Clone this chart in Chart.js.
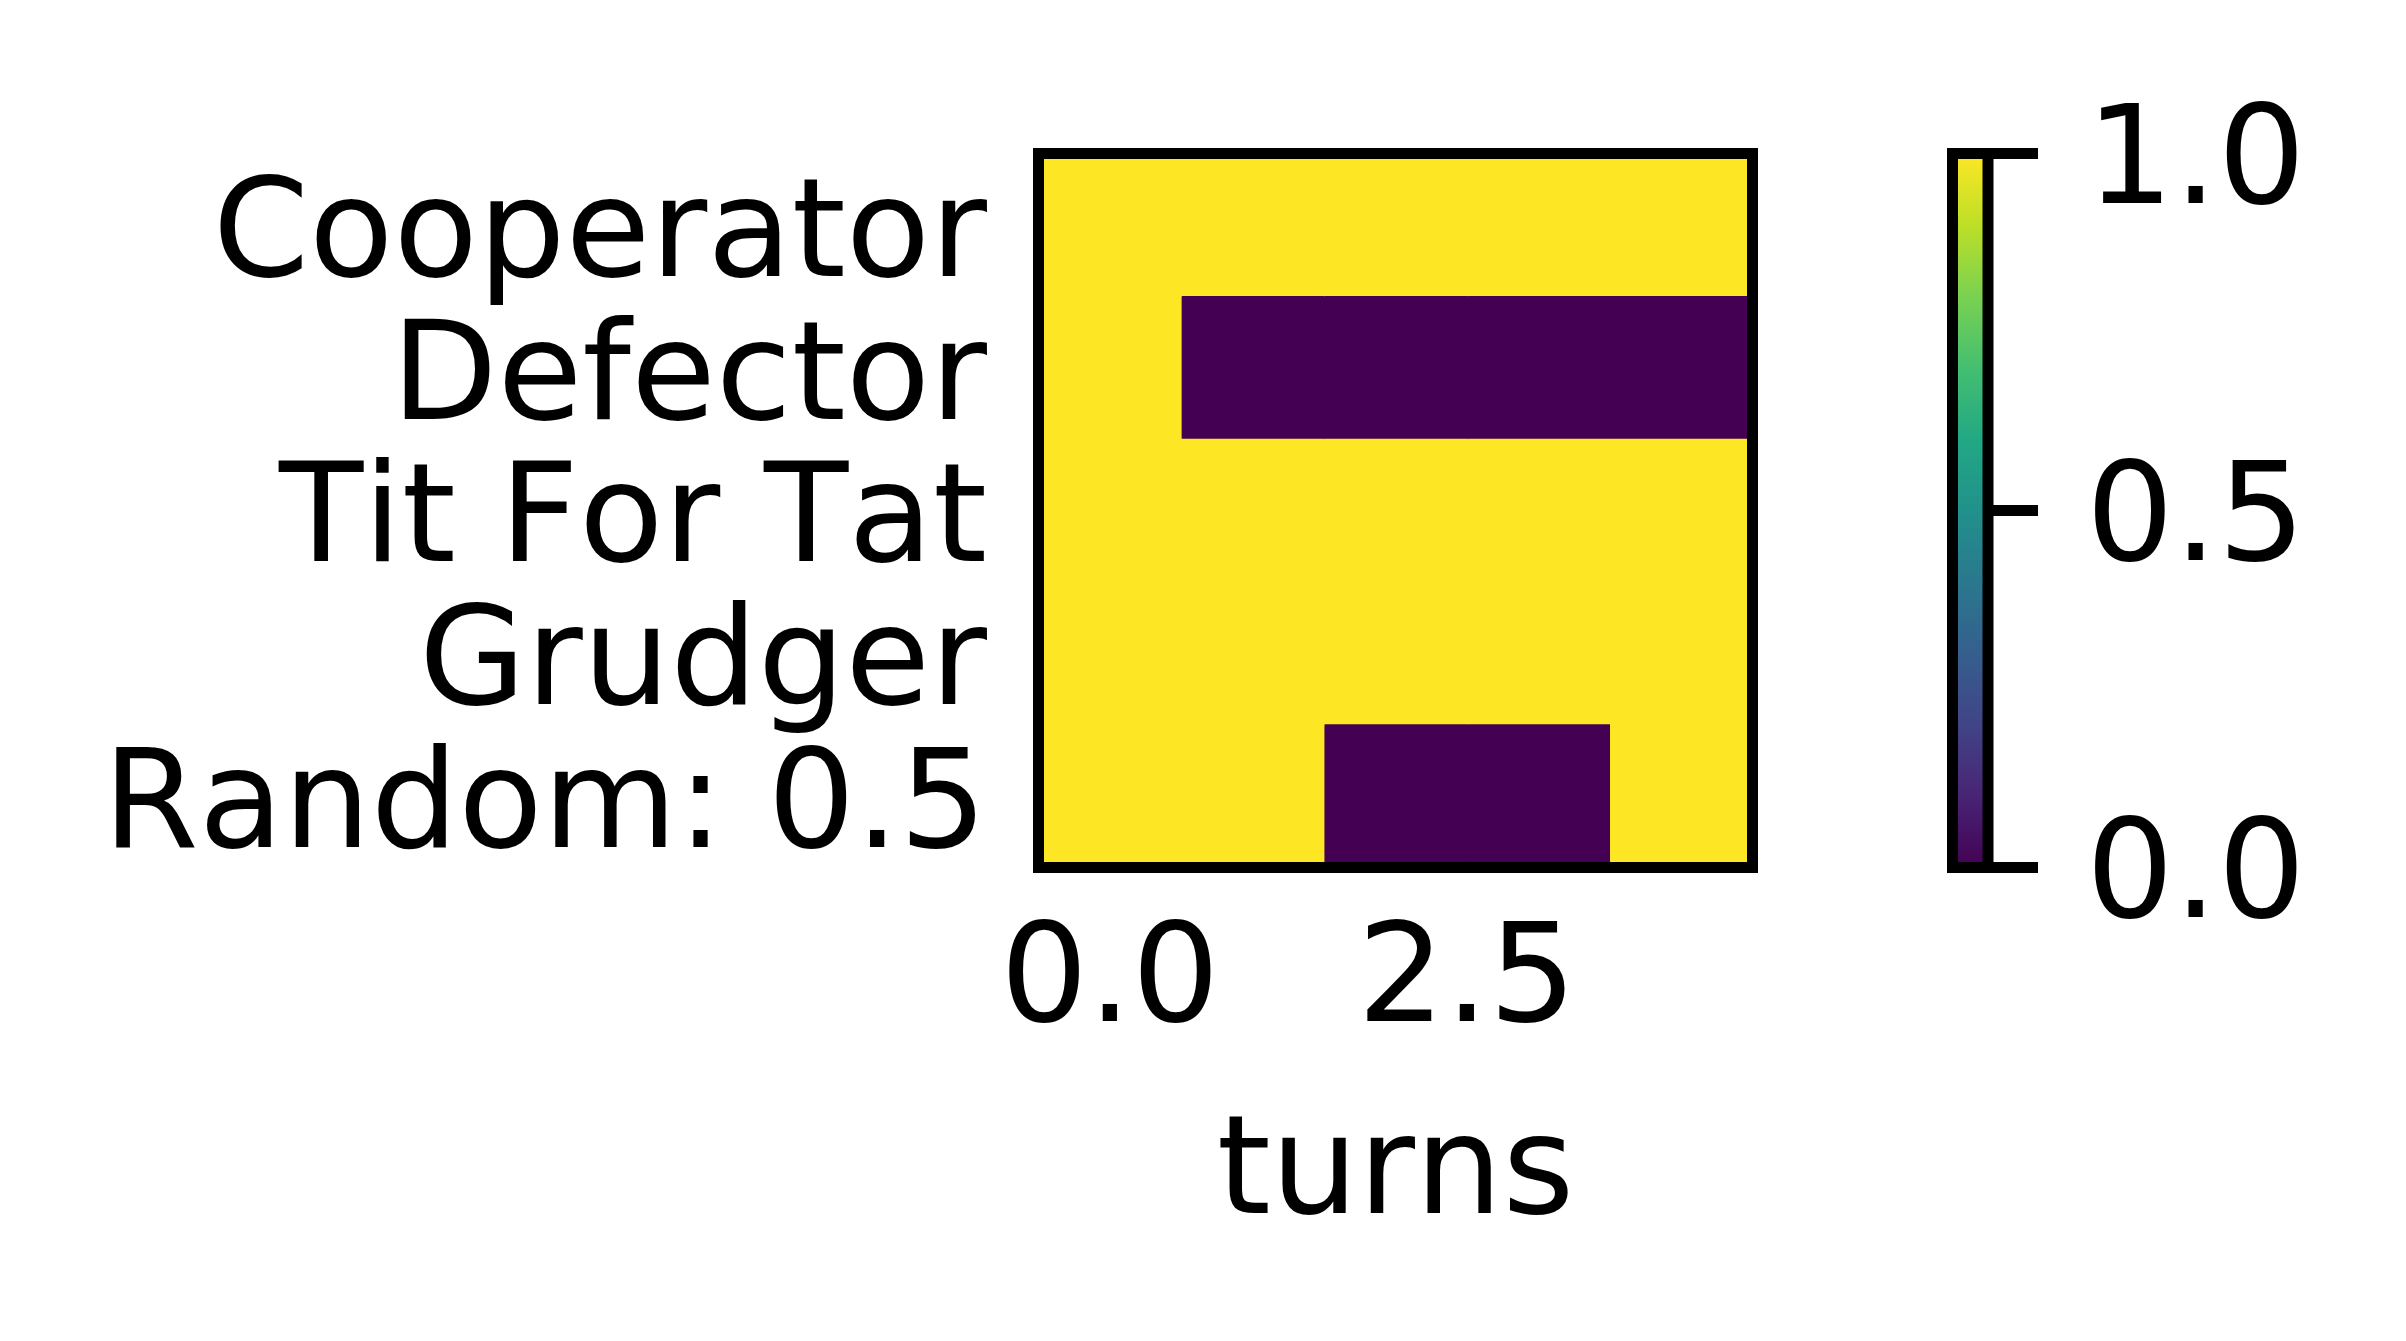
<!DOCTYPE html>
<html>
<head>
<meta charset="utf-8">
<script src="https://cdn.jsdelivr.net/npm/chart.js@4.4.1/dist/chart.umd.min.js"></script>
<style>
  html, body { margin: 0; padding: 0; background: #ffffff; overflow: hidden; }
  #wrap { position: relative; width: 2406px; height: 1341px; }
  canvas { position: absolute; left: 0; top: 0; font-kerning: none; }
</style>
</head>
<body>
<div id="wrap">
  <canvas id="heat" width="2406" height="1341"></canvas>
  <canvas id="cbar" width="2406" height="1341"></canvas>
</div>
<script>
// ---- data ----
const players = ["Cooperator", "Defector", "Tit For Tat", "Grudger", "Random: 0.5"];
const turns = [0, 1, 2, 3, 4];
const cooperator = [1, 1, 1, 1, 1];
const defector   = [1, 0, 0, 0, 0];
const titForTat  = [1, 1, 1, 1, 1];
const grudger    = [1, 1, 1, 1, 1];
const random05   = [1, 1, 0, 0, 1];
const xTickValues = [0, 2.5];
const cbTickValues = [0, 0.5, 1];
const cbRange = [0, 1];

const rows = [cooperator, defector, titForTat, grudger, random05];

// ---- style ----
const FONT = "'DejaVu Sans', sans-serif";
const viridisStops = ["#440154", "#482475", "#414487", "#355f8d", "#2a788e", "#21918c",
                      "#22a884", "#44bf70", "#7ad151", "#bddf26", "#fde725"];
function hexToRgb(h) { return [parseInt(h.slice(1,3),16), parseInt(h.slice(3,5),16), parseInt(h.slice(5,7),16)]; }
function viridis(v) {
  const t = Math.max(0, Math.min(1, v)) * (viridisStops.length - 1);
  const i = Math.min(Math.floor(t), viridisStops.length - 2);
  const f = t - i;
  const a = hexToRgb(viridisStops[i]), b = hexToRgb(viridisStops[i + 1]);
  const c = a.map((x, k) => Math.round(x + (b[k] - x) * f));
  return `rgb(${c[0]},${c[1]},${c[2]})`;
}

Chart.defaults.font.family = FONT;
Chart.defaults.color = "#000000";
Chart.defaults.animation = false;

const noKernPlugin = {
  id: "noKern",
  beforeInit(chart) { try { chart.ctx.fontKerning = "none"; } catch (e) {} },
  beforeUpdate(chart) { try { chart.ctx.fontKerning = "none"; } catch (e) {} },
  beforeDraw(chart) { try { chart.ctx.fontKerning = "none"; } catch (e) {} }
};

const frameW = 11;
const framePlugin = {
  id: "frame",
  afterDatasetsDraw(chart) {
    const { ctx, chartArea: a } = chart;
    ctx.save();
    ctx.strokeStyle = "#000000";
    ctx.lineWidth = frameW;
    ctx.lineJoin = "miter";
    ctx.strokeRect(a.left, a.top, a.right - a.left, a.bottom - a.top);
    ctx.restore();
  }
};

// ---- heatmap ----
const heatDatasets = turns.map(t => ({
  data: players.map(() => [t - 0.5, t + 0.5]),
  backgroundColor: rows.map(r => viridis(r[t])),
  borderWidth: 0,
  barPercentage: 1,
  categoryPercentage: 1,
  grouped: false
}));

new Chart(document.getElementById("heat"), {
  type: "bar",
  data: { labels: players, datasets: heatDatasets },
  options: {
    indexAxis: "y",
    responsive: false,
    animation: false,
    layout: { padding: { left: 0, top: 153.5, right: 653.5, bottom: 95 } },
    plugins: { legend: { display: false }, tooltip: { enabled: false } },
    scales: {
      x: {
        type: "linear",
        min: -0.5, max: 4.5,
        grid: { display: false, drawTicks: false },
        border: { display: false },
        afterBuildTicks: s => { s.ticks = xTickValues.map(v => ({ value: v })); },
        afterFit: s => { s.height = 378.5; },
        ticks: {
          autoSkip: false, maxRotation: 0,
          padding: 48.5,
          font: { size: 138, lineHeight: 1 },
          callback: v => Number(v).toFixed(1)
        },
        title: {
          display: true, text: "turns",
          padding: 0,
          font: { size: 138, lineHeight: 1 }
        }
      },
      y: {
        type: "category",
        grid: { display: false, drawTicks: false },
        border: { display: false },
        afterFit: s => { s.width = 1038.5; },
        ticks: {
          autoSkip: false,
          padding: 51.5,
          labelOffset: 15,
          font: { size: 138, lineHeight: 1 }
        }
      }
    }
  },
  plugins: [noKernPlugin, framePlugin]
});

// ---- colorbar ----
new Chart(document.getElementById("cbar"), {
  type: "bar",
  data: {
    labels: ["colorbar"],
    datasets: [{
      data: [cbRange],
      borderWidth: 0,
      barPercentage: 1,
      categoryPercentage: 1,
      backgroundColor: (c) => {
        const chart = c.chart;
        const a = chart.chartArea;
        if (!a) return viridis(0.5);
        const ys = chart.scales.y;
        const g = chart.ctx.createLinearGradient(0, ys.getPixelForValue(cbRange[0]), 0, ys.getPixelForValue(cbRange[1]));
        viridisStops.forEach((col, i) => g.addColorStop(i / (viridisStops.length - 1), col));
        return g;
      }
    }]
  },
  options: {
    responsive: false,
    animation: false,
    layout: { padding: { left: 1952.5, top: 153.5, right: 18, bottom: 473.5 } },
    plugins: { legend: { display: false }, tooltip: { enabled: false } },
    scales: {
      x: { type: "category", display: false },
      y: {
        type: "linear",
        position: "right",
        min: cbRange[0], max: cbRange[1],
        afterBuildTicks: s => { s.ticks = cbTickValues.map(v => ({ value: v })); },
        afterFit: s => { s.width = 400; },
        grid: { display: true, drawOnChartArea: false, drawTicks: true, tickLength: 50, tickWidth: 11, tickColor: "#000000" },
        border: { display: false },
        ticks: {
          autoSkip: false,
          padding: 48,
          labelOffset: 14,
          font: { size: 138, lineHeight: 1 },
          callback: v => Number(v).toFixed(1)
        }
      }
    }
  },
  plugins: [noKernPlugin, framePlugin]
});
</script>
</body>
</html>
